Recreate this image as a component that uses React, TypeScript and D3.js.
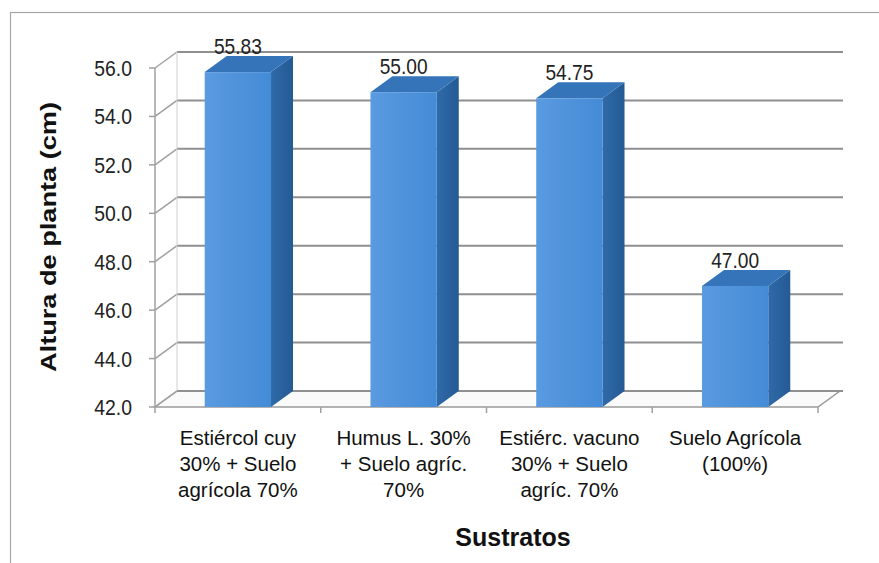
import React from "react";
import * as d3 from "d3";

const categories: string[][] = [
  ["Estiércol cuy", "30% + Suelo", "agrícola 70%"],
  ["Humus L. 30%", "+ Suelo agríc.", "70%"],
  ["Estiérc. vacuno", "30% + Suelo", "agríc. 70%"],
  ["Suelo Agrícola", "(100%)"],
];
const values: number[] = [55.83, 55.0, 54.75, 47.0];
const valueLabels: string[] = ["55.83", "55.00", "54.75", "47.00"];
const yTicks: number[] = [42, 44, 46, 48, 50, 52, 54, 56];

const W = 879;
const H = 563;
const DX = 22;
const DY = -16;

export default function App() {
  const x = d3
    .scaleBand<number>()
    .domain(d3.range(values.length))
    .range([155, 818])
    .paddingInner(0)
    .paddingOuter(0);
  const y = d3.scaleLinear().domain([42, 56]).range([407, 68]);
  const bw = x.bandwidth() * 0.4;
  const sans = "'Liberation Sans', Arial, sans-serif";
  const x0 = x.range()[0];
  const x1 = x.range()[1];
  const yFloor = y(42);

  return (
    <svg
      width={W}
      height={H}
      style={{ position: "absolute", left: 0, top: 0, background: "#fff" }}
    >
      <defs>
        <linearGradient id="front" x1="0" x2="1" y1="0" y2="0">
          <stop offset="0" stopColor="#5a9ae0" />
          <stop offset="1" stopColor="#448bd6" />
        </linearGradient>
        <linearGradient id="side" x1="0" x2="1" y1="0" y2="0">
          <stop offset="0" stopColor="#2f6aa8" />
          <stop offset="1" stopColor="#245a94" />
        </linearGradient>
      </defs>
      {/* chart frame */}
      <rect x={10.5} y={12.5} width={W + 20} height={H + 20} fill="none" stroke="#a6a6a6" strokeWidth={1.2} />

      {/* floor */}
      <path
        d={`M${x0},${yFloor} L${x1},${yFloor} L${x1 + DX},${yFloor + DY} L${x0 + DX},${yFloor + DY} Z`}
        fill="#fafafa"
        stroke="#9a9a9a"
        strokeWidth={1.5}
      />
      {/* back wall gridlines and side wall diagonals */}
      {yTicks.map((t) => (
        <g key={t}>
          <line x1={x0 + DX} x2={x1 + DX + 3} y1={y(t) + DY} y2={y(t) + DY} stroke="#8f8f8f" strokeWidth={2} />
          <line x1={x0} x2={x0 + DX} y1={y(t)} y2={y(t) + DY} stroke="#a0a0a0" strokeWidth={1.5} />
        </g>
      ))}
      <line x1={x0 + DX} x2={x0 + DX} y1={y(56) + DY} y2={yFloor + DY} stroke="#d0d0d0" strokeWidth={1} />

      {/* front vertical axis */}
      <line x1={x0} x2={x0} y1={y(56)} y2={yFloor} stroke="#a0a0a0" strokeWidth={1.5} />
      {yTicks.map((t) => (
        <g key={"t" + t}>
          <line x1={x0 - 6} x2={x0} y1={y(t)} y2={y(t)} stroke="#a0a0a0" strokeWidth={1.5} />
          <text
            transform={`translate(132,${y(t) + 8}) scale(0.88,1)`}
            textAnchor="end"
            fontFamily={sans}
            fontSize={22}
            fill="#222"
          >
            {t.toFixed(1)}
          </text>
        </g>
      ))}
      {/* category ticks on the floor front edge */}
      {d3.range(values.length + 1).map((i) => {
        const xx = i < values.length ? (x(i) as number) : x1;
        return <line key={"c" + i} x1={xx} x2={xx} y1={yFloor} y2={yFloor + 6} stroke="#a0a0a0" strokeWidth={1.5} />;
      })}

      {/* bars */}
      {values.map((v, i) => {
        const cx = (x(i) as number) + x.bandwidth() / 2;
        const l = cx - bw / 2;
        const r = cx + bw / 2;
        const top = y(v);
        return (
          <g key={"b" + i}>
            <path
              d={`M${r},${top} L${r + DX},${top + DY} L${r + DX},${yFloor + DY} L${r},${yFloor} Z`}
              fill="url(#side)"
            />
            <path
              d={`M${l},${top} L${l + DX},${top + DY} L${r + DX},${top + DY} L${r},${top} Z`}
              fill="#3574b8"
            />
            <rect x={l} y={top} width={bw} height={yFloor - top} fill="url(#front)" />
            <text
              transform={`translate(${cx},${top + DY - 2}) scale(0.87,1)`}
              textAnchor="middle"
              fontFamily={sans}
              fontSize={22}
              fill="#222"
            >
              {valueLabels[i]}
            </text>
          </g>
        );
      })}

      {/* category labels */}
      {categories.map((lines, i) => {
        const cx = (x(i) as number) + x.bandwidth() / 2;
        return (
          <text key={"l" + i} textAnchor="middle" fontFamily={sans} fontSize={20.5} fill="#111">
            {lines.map((ln, j) => (
              <tspan key={j} x={cx} y={445 + j * 26}>
                {ln}
              </tspan>
            ))}
          </text>
        );
      })}

      {/* axis titles */}
      <text
        transform={`translate(56,237) rotate(-90)`}
        textAnchor="middle"
        fontFamily={sans}
        fontWeight="bold"
        fontSize={22}
        fill="#111"
        textLength={270}
        lengthAdjust="spacingAndGlyphs"
      >
        Altura de planta (cm)
      </text>
      <text x={513} y={546} textAnchor="middle" fontFamily={sans} fontWeight="bold" fontSize={25} fill="#111">
        Sustratos
      </text>
    </svg>
  );
}
